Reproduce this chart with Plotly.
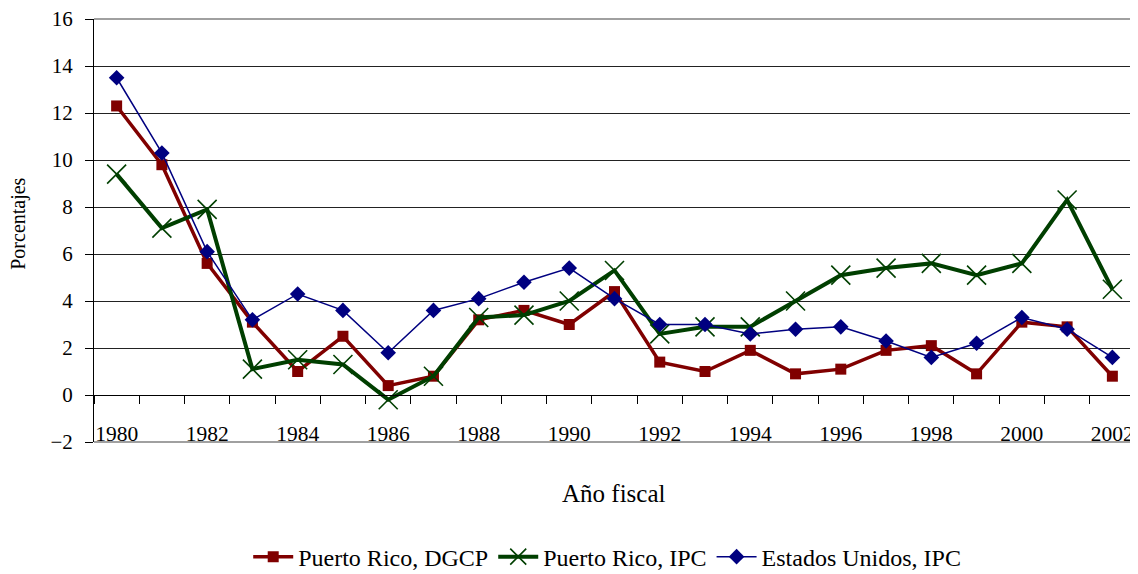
import plotly.graph_objects as go

years = list(range(1980, 2003))
pr_dgcp = [12.3, 9.8, 5.6, 3.1, 1.0, 2.5, 0.4, 0.8, 3.2, 3.6, 3.0, 4.4, 1.4, 1.0, 1.9, 0.9, 1.1, 1.9, 2.1, 0.9, 3.1, 2.9, 0.8]
pr_ipc = [9.4, 7.1, 7.9, 1.1, 1.5, 1.3, -0.2, 0.8, 3.3, 3.4, 4.0, 5.3, 2.6, 2.9, 2.9, 4.0, 5.1, 5.4, 5.6, 5.1, 5.6, 8.3, 4.5]
us_ipc = [13.5, 10.3, 6.1, 3.2, 4.3, 3.6, 1.8, 3.6, 4.1, 4.8, 5.4, 4.1, 3.0, 3.0, 2.6, 2.8, 2.9, 2.3, 1.6, 2.2, 3.3, 2.8, 1.6]
tick_years = [str(y) for y in years[::2]]

idx = list(range(len(years)))
FONT = "Liberation Serif, Times New Roman, serif"

fig = go.Figure()
fig.add_trace(go.Scatter(
    x=idx, y=pr_dgcp, name="Puerto Rico, DGCP", mode="lines+markers",
    line=dict(color="#800000", width=3.5),
    marker=dict(symbol="square", size=11, color="#800000")))
fig.add_trace(go.Scatter(
    x=idx, y=pr_ipc, name="Puerto Rico, IPC", mode="lines+markers",
    line=dict(color="#003f00", width=4),
    marker=dict(symbol="x-thin", size=19, color="#003f00",
                line=dict(color="#003f00", width=1.6))))
fig.add_trace(go.Scatter(
    x=idx, y=us_ipc, name="Estados Unidos, IPC", mode="lines+markers",
    line=dict(color="#000080", width=1.5),
    marker=dict(symbol="diamond", size=12, color="#000080")))

fig.update_layout(
    width=1130, height=566,
    margin=dict(l=86, r=3, t=11, b=132, autoexpand=False),
    paper_bgcolor="white", plot_bgcolor="white",
    font=dict(family=FONT, size=20, color="black"),
    showlegend=True,
    legend=dict(orientation="h", x=0.493, xanchor="center", y=-0.272, yanchor="middle",
                font=dict(family=FONT, size=24), itemwidth=40, tracegroupgap=0),
    xaxis=dict(
        range=[-0.5, 22.5], anchor="free", position=1/9, automargin=False,
        tickmode="array", tickvals=idx[::2], ticktext=tick_years,
        ticks="", ticklabelstandoff=19, ticklabeloverflow="allow",
        tickfont=dict(family=FONT, size=21.5),
        showgrid=False, zeroline=False,
        showline=True, linecolor="black", linewidth=1,
        minor=dict(ticks="outside", tickmode="linear", tick0=0.5, dtick=1,
                   ticklen=8, tickcolor="black", tickwidth=1, showgrid=False),
    ),
    yaxis=dict(
        range=[-2, 16], tickmode="linear", tick0=-2, dtick=2, automargin=False,
        ticks="outside", ticklen=8, tickcolor="black",
        ticklabelstandoff=8, ticklabeloverflow="allow",
        showgrid=True, gridcolor="#222222", gridwidth=1,
        zeroline=False,
        showline=True, linecolor="black", linewidth=1,
        tickfont=dict(family=FONT, size=21),
    ),
    shapes=[
        dict(type="line", xref="paper", yref="paper", x0=0, x1=1, y0=1, y1=1,
             line=dict(color="#a0a0a0", width=2)),
        dict(type="line", xref="paper", yref="paper", x0=1, x1=1, y0=0, y1=1,
             line=dict(color="#a0a0a0", width=2)),
        dict(type="line", xref="paper", yref="paper", x0=0, x1=1, y0=0, y1=0,
             line=dict(color="#a0a0a0", width=2)),
    ],
    annotations=[
        dict(text="Año fiscal", xref="paper", yref="paper", x=0.4995, y=-0.1206,
             xanchor="center", yanchor="middle", showarrow=False,
             font=dict(family=FONT, size=25)),
        dict(text="Porcentajes", xref="paper", yref="paper", x=-0.072, y=0.516,
             xanchor="center", yanchor="middle", textangle=-90, showarrow=False,
             font=dict(family=FONT, size=20)),
    ],
)

fig.write_html("out.html")
